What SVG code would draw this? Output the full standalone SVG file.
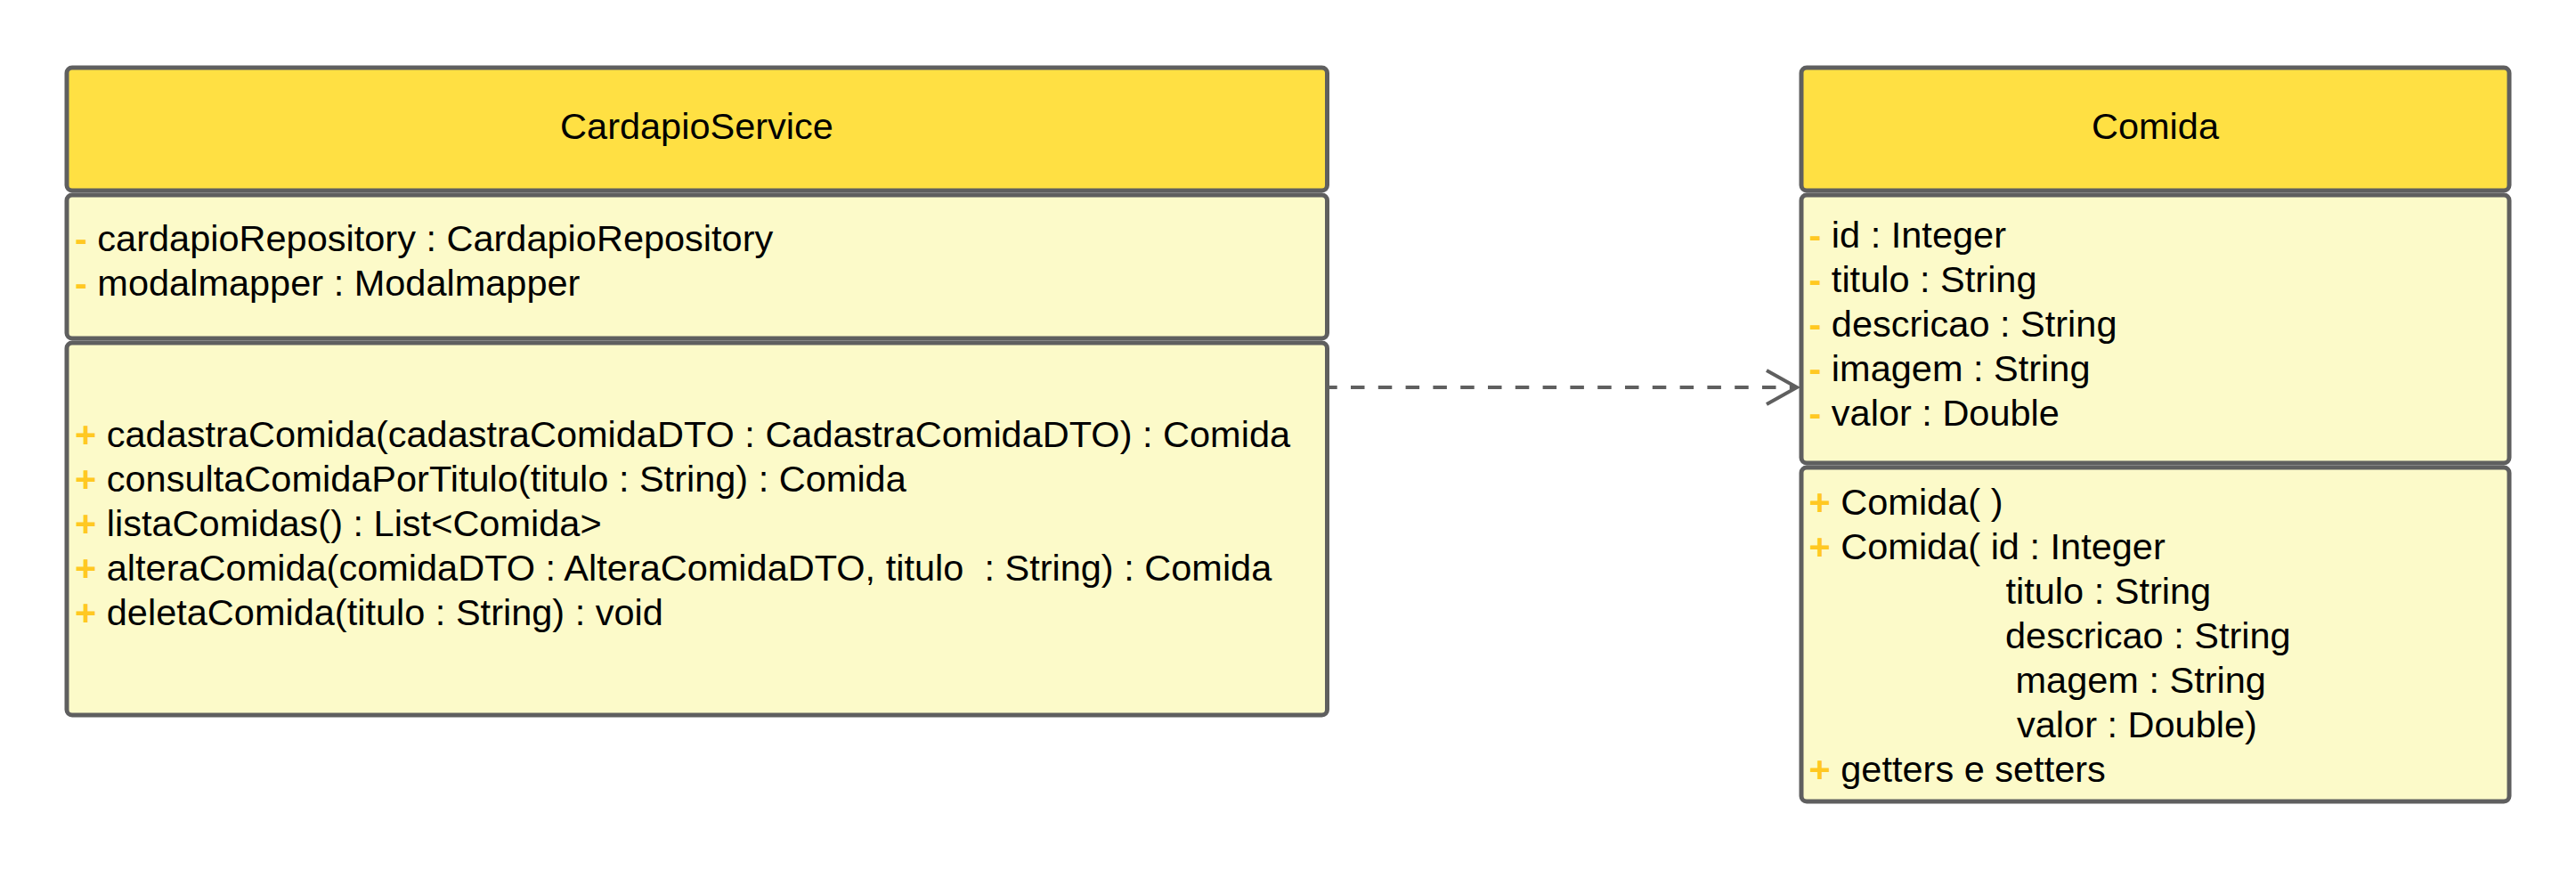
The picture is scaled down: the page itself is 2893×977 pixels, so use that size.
<svg xmlns="http://www.w3.org/2000/svg" width="2893" height="977" viewBox="0 0 2893 977">
<style>
.hdr{fill:#FFE043;stroke:#5F5F5F;stroke-width:5}
.body{fill:#FCFAC9;stroke:#5F5F5F;stroke-width:5}
text{font-family:"Liberation Sans",Arial,sans-serif;font-size:41.5px;fill:#000;white-space:pre}
.v{fill:#FFC822;font-weight:bold}
.title{text-anchor:middle}
.dep{fill:none;stroke:#5F5F5F;stroke-width:4;stroke-dasharray:15.5 15.3;stroke-dashoffset:6.8}
.head{fill:none;stroke:#5F5F5F;stroke-width:4;stroke-linejoin:miter}
</style>
<rect width="2893" height="977" fill="#FFFFFF"/>
<g id="CardapioService">
<rect class="hdr" x="75" y="76" width="1415.5" height="138" rx="6"/>
<rect class="body" x="75" y="219" width="1415.5" height="161" rx="6"/>
<rect class="body" x="75" y="385" width="1415.5" height="418" rx="6"/>
<text class="title" x="782.5" y="156">CardapioService</text>
<text x="84" y="282" xml:space="preserve"><tspan class="v">-</tspan> cardapioRepository : CardapioRepository</text>
<text x="84" y="332" xml:space="preserve"><tspan class="v">-</tspan> modalmapper : Modalmapper</text>
<text x="84" y="502" xml:space="preserve"><tspan class="v">+</tspan> cadastraComida(cadastraComidaDTO : CadastraComidaDTO) : Comida</text>
<text x="84" y="552" xml:space="preserve"><tspan class="v">+</tspan> consultaComidaPorTitulo(titulo : String) : Comida</text>
<text x="84" y="602" xml:space="preserve"><tspan class="v">+</tspan> listaComidas() : List&lt;Comida&gt;</text>
<text x="84" y="652" xml:space="preserve"><tspan class="v">+</tspan> alteraComida(comidaDTO : AlteraComidaDTO, titulo  : String) : Comida</text>
<text x="84" y="702" xml:space="preserve"><tspan class="v">+</tspan> deletaComida(titulo : String) : void</text>
</g>
<g id="Comida">
<rect class="hdr" x="2023" y="76" width="795" height="138" rx="6"/>
<rect class="body" x="2023" y="219" width="795" height="301" rx="6"/>
<rect class="body" x="2023" y="525" width="795" height="375" rx="6"/>
<text class="title" x="2420.5" y="156">Comida</text>
<text x="2031.5" y="278" xml:space="preserve"><tspan class="v">-</tspan> id : Integer</text>
<text x="2031.5" y="328" xml:space="preserve"><tspan class="v">-</tspan> titulo : String</text>
<text x="2031.5" y="378" xml:space="preserve"><tspan class="v">-</tspan> descricao : String</text>
<text x="2031.5" y="428" xml:space="preserve"><tspan class="v">-</tspan> imagem : String</text>
<text x="2031.5" y="478" xml:space="preserve"><tspan class="v">-</tspan> valor : Double</text>
<text x="2031.5" y="577.5" xml:space="preserve"><tspan class="v">+</tspan> Comida( )</text>
<text x="2031.5" y="627.5" xml:space="preserve"><tspan class="v">+</tspan> Comida( id : Integer</text>
<text x="2252.5" y="677.5">titulo : String</text>
<text x="2252" y="727.5">descricao : String</text>
<text x="2263.5" y="777.5">magem : String</text>
<text x="2265" y="827.5">valor : Double)</text>
<text x="2031.5" y="877.5" xml:space="preserve"><tspan class="v">+</tspan> getters e setters</text>
</g>
<g id="connectors">
<path class="dep" d="M1493 435 H2015"/>
<path class="head" d="M1984 416 L2018 435 L1984 454"/>
</g>
</svg>
